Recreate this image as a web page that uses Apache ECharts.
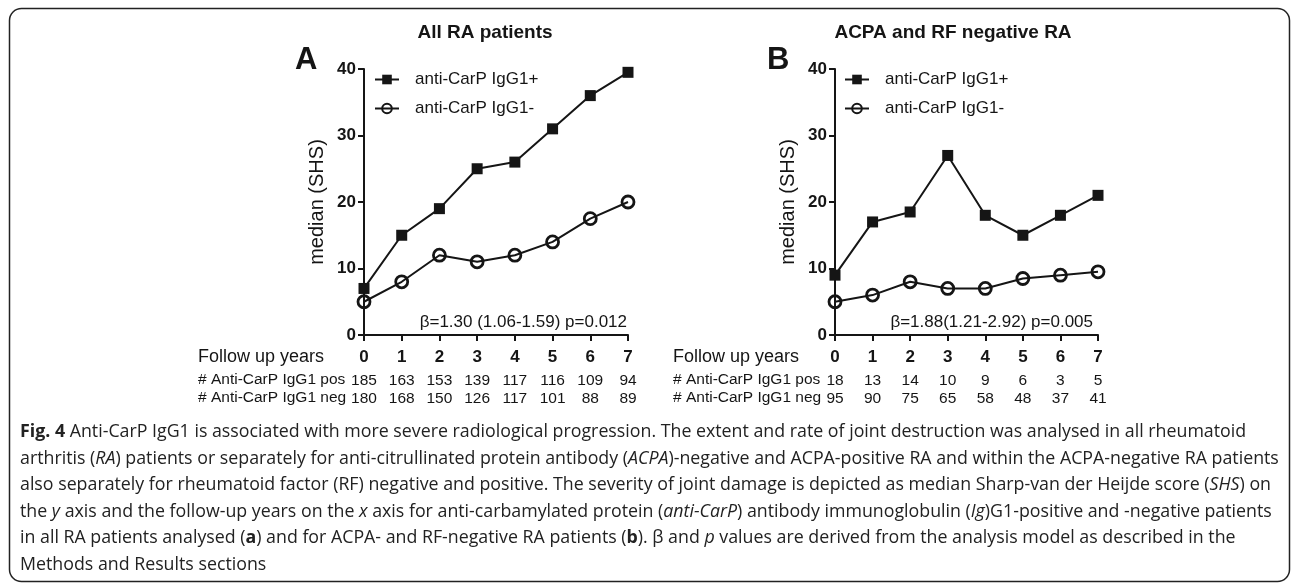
<!DOCTYPE html>
<html><head><meta charset="utf-8">
<script src="https://cdn.jsdelivr.net/npm/echarts@6/dist/echarts.min.js"></script>
<style>html,body{margin:0;padding:0;background:#fff}#c{width:1292px;height:584px}</style>
</head><body><div id="c"></div>
<script>
// ---- data ----
const years = [0, 1, 2, 3, 4, 5, 6, 7];
const allPos = [7, 15, 19, 25, 26, 31, 36, 39.5];
const allNeg = [5, 8, 12, 11, 12, 14, 17.5, 20];
const negRaPos = [9, 17, 18.5, 27, 18, 15, 18, 21];
const negRaNeg = [5, 6, 8, 7, 7, 8.5, 9, 9.5];
const allPosN = [185, 163, 153, 139, 117, 116, 109, 94];
const allNegN = [180, 168, 150, 126, 117, 101, 88, 89];
const negRaPosN = [18, 13, 14, 10, 9, 6, 3, 5];
const negRaNegN = [95, 90, 75, 65, 58, 48, 37, 41];
const panelTitles = ['All RA patients', 'ACPA and RF negative RA'];
const panelLetters = ['A', 'B'];
const betaTexts = ['β=1.30 (1.06-1.59) p=0.012', 'β=1.88(1.21-2.92) p=0.005'];
const seriesNames = ['anti-CarP IgG1+', 'anti-CarP IgG1-'];
const yAxisName = 'median (SHS)';
const xRowLabel = 'Follow up years';
const posRowLabel = '# Anti-CarP IgG1 pos';
const negRowLabel = '# Anti-CarP IgG1 neg';
const captionLines = [
  '{b|Fig. 4} Anti-CarP IgG1 is associated with more severe radiological progression. The extent and rate of joint destruction was analysed in all rheumatoid',
  'arthritis ({i|RA}) patients or separately for anti-citrullinated protein antibody ({i|ACPA})-negative and ACPA-positive RA and within the ACPA-negative RA patients',
  'also separately for rheumatoid factor (RF) negative and positive. The severity of joint damage is depicted as median Sharp-van der Heijde score ({i|SHS}) on',
  'the {i|y} axis and the follow-up years on the {i|x} axis for anti-carbamylated protein ({i|anti-CarP}) antibody immunoglobulin ({i|Ig})G1-positive and -negative patients',
  'in all RA patients analysed ({b|a}) and for ACPA- and RF-negative RA patients ({b|b}). β and {i|p} values are derived from the analysis model as described in the',
  'Methods and Results sections'
];

// ---- layout / style ----
const FONT = '"Liberation Sans", Arial, Helvetica, sans-serif';
const CAP_FONT = '"Open Sans", "Noto Sans", sans-serif';
const CAP_SIZE = 17.8;
const INK = '#151515';
const panels = [
  { left: 364, width: 264, pos: allPos, neg: allNeg, posN: allPosN, negN: allNegN, titleX: 485, letterX: 295, betaX: 627, rowX: 198, legendX: 374 },
  { left: 835, width: 263, pos: negRaPos, neg: negRaNeg, posN: negRaPosN, negN: negRaNegN, titleX: 953, letterX: 767, betaX: 1093, rowX: 673, legendX: 844 }
];
const TOP = 69, HEIGHT = 266;

const grid = [], xAxis = [], yAxis = [], series = [], legend = [], graphic = [];

panels.forEach((p, gi) => {
  grid.push({ left: p.left, top: TOP, width: p.width, height: HEIGHT, containLabel: false });
  const base = {
    gridIndex: gi, type: 'value', min: 0, max: 7, interval: 1, position: 'bottom',
    splitLine: { show: false }
  };
  xAxis.push(Object.assign({}, base, {
    axisLine: { show: true, onZero: false, lineStyle: { color: INK, width: 2 } },
    axisTick: { show: true, length: 6, lineStyle: { color: INK, width: 2 } },
    axisLabel: { fontFamily: FONT, fontWeight: 'bold', fontSize: 17, color: INK, margin: 14 }
  }));
  const counts = [p.posN, p.negN];
  counts.forEach((arr, k) => {
    xAxis.push(Object.assign({}, base, {
      axisLine: { show: false }, axisTick: { show: false },
      axisLabel: { fontFamily: FONT, fontSize: 15.5, color: INK, margin: 38 + k * 18,
        formatter: v => { const i = years.indexOf(v); return i >= 0 ? String(arr[i]) : ''; } }
    }));
  });
  yAxis.push({
    gridIndex: gi, type: 'value', min: 0, max: 40, interval: 10,
    splitLine: { show: false },
    axisLine: { show: true, onZero: false, lineStyle: { color: INK, width: 2 } },
    axisTick: { show: true, length: 6, lineStyle: { color: INK, width: 2 } },
    axisLabel: { fontFamily: FONT, fontWeight: 'bold', fontSize: 17, color: INK, margin: 8 },
    name: yAxisName, nameLocation: 'middle', nameGap: 37,
    nameTextStyle: { fontFamily: FONT, fontSize: 20, color: INK }
  });
  const xi = gi * 3;
  series.push({
    name: seriesNames[0], type: 'line', xAxisIndex: xi, yAxisIndex: gi,
    data: years.map((x, i) => [x, p.pos[i]]),
    symbol: 'rect', symbolSize: 11, showAllSymbol: true,
    lineStyle: { color: INK, width: 2 }, itemStyle: { color: INK }, z: 3
  });
  series.push({
    name: seriesNames[1], type: 'line', xAxisIndex: xi, yAxisIndex: gi,
    data: years.map((x, i) => [x, p.neg[i]]),
    symbol: 'circle', symbolSize: 12, showAllSymbol: true,
    lineStyle: { color: INK, width: 2 },
    itemStyle: { color: 'rgba(255,255,255,0)', borderColor: INK, borderWidth: 2.8 }, z: 3
  });
  legend.push({
    data: seriesNames, orient: 'vertical', left: p.legendX, top: 71, padding: 0,
    itemWidth: 24, itemHeight: 12, itemGap: 12,
    textStyle: { fontFamily: FONT, fontSize: 17, color: INK, padding: [0, 0, 0, 11] }
  });
  graphic.push(
    { type: 'text', x: p.titleX, y: 33, style: { text: panelTitles[gi], font: `bold 19px ${FONT}`, fill: INK, align: 'center', verticalAlign: 'middle' } },
    { type: 'text', x: p.letterX, y: 60, style: { text: panelLetters[gi], font: `bold 31px ${FONT}`, fill: INK, align: 'left', verticalAlign: 'middle' } },
    { type: 'text', x: p.betaX, y: 322, style: { text: betaTexts[gi], font: `17px ${FONT}`, fill: INK, align: 'right', verticalAlign: 'middle' } },
    { type: 'text', x: p.rowX, y: 357, style: { text: xRowLabel, font: `18px ${FONT}`, fill: INK, align: 'left', verticalAlign: 'middle' } },
    { type: 'text', x: p.rowX, y: 380, style: { text: posRowLabel, font: `15.5px ${FONT}`, fill: INK, align: 'left', verticalAlign: 'middle' } },
    { type: 'text', x: p.rowX, y: 398, style: { text: negRowLabel, font: `15.5px ${FONT}`, fill: INK, align: 'left', verticalAlign: 'middle' } }
  );
});

graphic.push({ type: 'rect', shape: { x: 9.5, y: 8.5, width: 1280, height: 573, r: 12 }, style: { fill: 'none', stroke: '#222', lineWidth: 1.5 }, z: 0 });
captionLines.forEach((t, i) => {
  graphic.push({ type: 'text', x: 20, y: 432 + i * 26.6, style: {
    text: t, fontFamily: CAP_FONT, fontSize: CAP_SIZE, fill: '#222', align: 'left', verticalAlign: 'middle',
    rich: { b: { fontWeight: 'bold', fontFamily: CAP_FONT, fontSize: CAP_SIZE, fill: '#222' }, i: { fontStyle: 'italic', fontFamily: CAP_FONT, fontSize: CAP_SIZE, fill: '#222' } }
  } });
});

const chart = echarts.init(document.getElementById('c'), null, { renderer: 'canvas' });
chart.setOption({ animation: false, backgroundColor: '#fff', grid, xAxis, yAxis, series, legend, graphic });
</script></body></html>
